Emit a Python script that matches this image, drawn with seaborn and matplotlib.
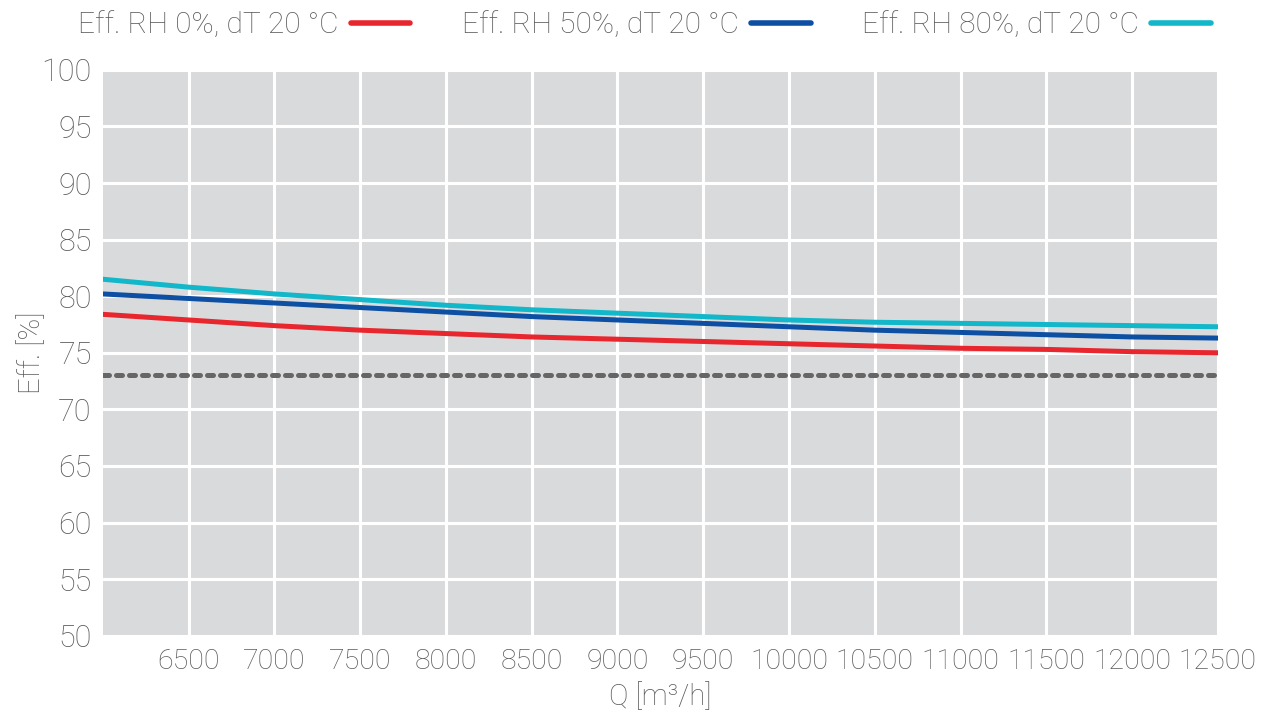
import numpy as np
import pandas as pd
from matplotlib import pyplot as plt
import seaborn as sns

# %% data
q = [6000, 6500, 7000, 7500, 8000, 8500, 9000, 9500, 10000, 10500, 11000, 11500, 12000, 12500]
eff_rh0 = [78.4, 77.9, 77.4, 77.0, 76.7, 76.4, 76.2, 76.0, 75.8, 75.6, 75.4, 75.3, 75.1, 75.0]
eff_rh50 = [80.2, 79.8, 79.4, 79.0, 78.6, 78.2, 77.9, 77.6, 77.3, 77.0, 76.8, 76.6, 76.4, 76.3]
eff_rh80 = [81.5, 80.8, 80.2, 79.7, 79.2, 78.8, 78.5, 78.2, 77.9, 77.7, 77.6, 77.5, 77.4, 77.3]
limit = 73

labels = ['Eff. RH 0%, dT 20 °C', 'Eff. RH 50%, dT 20 °C', 'Eff. RH 80%, dT 20 °C']
colors = ['#e8262e', '#0d4fa3', '#12b7c9']
x_ticks = list(range(6500, 13000, 500))
y_ticks = list(range(50, 105, 5))

df = pd.DataFrame({
    'Q': q * 3,
    'Eff': eff_rh0 + eff_rh50 + eff_rh80,
    'series': [labels[0]] * len(q) + [labels[1]] * len(q) + [labels[2]] * len(q),
})

# %%
sns.set_theme(style='darkgrid', rc={'axes.facecolor': '#d9dadc', 'grid.color': 'white',
                                    'grid.linewidth': 2.2})
plt.rcParams['font.family'] = ['Roboto', 'DejaVu Sans']
plt.rcParams['font.weight'] = 'light'
plt.rcParams['axes.labelweight'] = 'light'
txt = '#5a5a5a'

fig = plt.figure(figsize=(12.86, 7.2), dpi=100)
ax = fig.add_axes([0.080, 0.117, 0.867, 0.786])

sns.lineplot(data=df, x='Q', y='Eff', hue='series', palette=colors, linewidth=3.6,
             ax=ax, legend=False, solid_capstyle='round')
ax.axhline(limit, color='#666666', linewidth=3.6, linestyle=(0, (1.2, 1.4)),
           dash_capstyle='round')

ax.set_xlim(6000, 12500)
ax.set_ylim(50, 100)
ax.set_xticks(x_ticks)
ax.set_yticks(y_ticks)
ax.tick_params(axis='x', labelsize=20.5, labelcolor=txt, length=6, width=1,
               color='#8a8a8a', direction='in', pad=9)
ax.tick_params(axis='y', labelsize=22, labelcolor=txt, length=6, width=1,
               color='#8a8a8a', direction='in', pad=8)
for s in ax.spines.values():
    s.set_visible(False)

ax.set_xlabel('Q [m³/h]', fontsize=21, color=txt, fontweight='light', labelpad=5)
ax.set_ylabel('Eff. [%]', fontsize=21, color=txt, fontweight='light')
ax.yaxis.set_label_coords(-0.051, 0.5)

handles = [plt.Line2D([], [], color=c, linewidth=4, solid_capstyle='round') for c in colors]
fig.legend(handles, labels, loc='upper left', bbox_to_anchor=(0.040, 1.022), ncol=3,
           frameon=False, markerfirst=False, fontsize=21.5, labelcolor=txt,
           handlelength=2.0, handletextpad=0.4, columnspacing=1.73)

fig.savefig('out.png', dpi=100)
